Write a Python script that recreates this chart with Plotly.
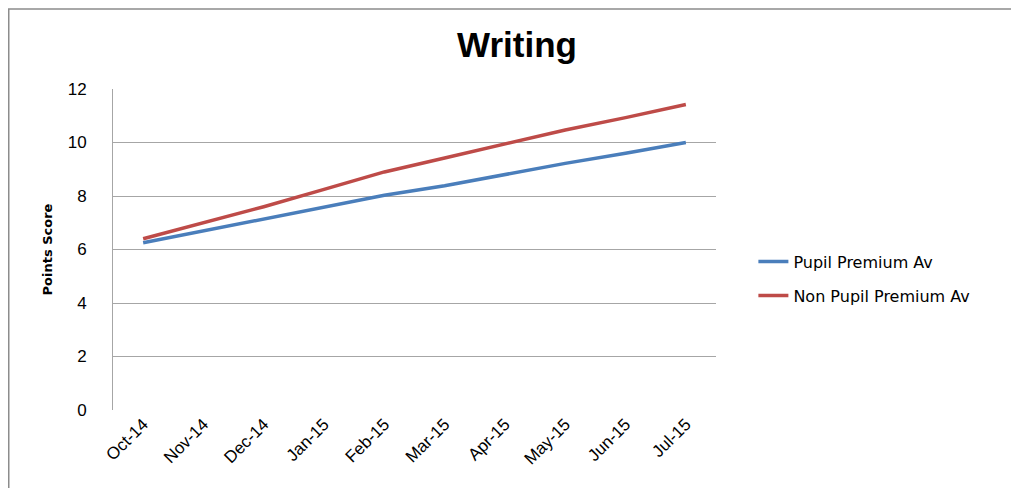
import plotly.graph_objects as go

months = ["Oct-14", "Nov-14", "Dec-14", "Jan-15", "Feb-15", "Mar-15", "Apr-15", "May-15", "Jun-15", "Jul-15"]
pupil_premium = [6.25, 6.7, 7.15, 7.6, 8.03, 8.38, 8.8, 9.22, 9.6, 10.0]
non_pupil_premium = [6.4, 7.0, 7.6, 8.25, 8.9, 9.42, 9.95, 10.47, 10.93, 11.42]
y_ticks = [0, 2, 4, 6, 8, 10, 12]

FONT = "Liberation Sans Narrow, Liberation Sans, Arial, sans-serif"

fig = go.Figure()
fig.add_trace(go.Scatter(x=months, y=pupil_premium, mode="lines", name="Pupil Premium Av",
                         legendgroup="a", line=dict(color="#4A7EBB", width=3.5)))
fig.add_trace(go.Scatter(x=months, y=non_pupil_premium, mode="lines", name="Non Pupil Premium Av",
                         legendgroup="b", line=dict(color="#BE4B48", width=3.5)))

fig.update_layout(
    width=1019, height=488,
    margin=dict(l=105, r=311, t=81, b=86),
    paper_bgcolor="white", plot_bgcolor="white",
    title=dict(text="<b>Writing</b>", x=509/1019, xanchor="center", y=1-37/488, yanchor="middle",
               font=dict(family=FONT, size=35, color="black")),
    font=dict(family=FONT, color="black"),
    showlegend=True,
    legend=dict(x=1.062, xanchor="left", y=0.515, yanchor="top",
                font=dict(family="DejaVu Sans, sans-serif", size=16, color="black"),
                bgcolor="rgba(0,0,0,0)", tracegroupgap=10),
    shapes=[dict(type="rect", xref="paper", yref="paper",
                 x0=(0.75-105)/603, x1=1.6, y0=-0.5, y1=(402-1)/321,
                 line=dict(color="#8c8c8c", width=1.5), layer="below")],
)
fig.update_xaxes(type="category", range=[-0.5, 9.5], showgrid=False, showline=False,
                 ticks="", tickangle=-45, tickfont=dict(family=FONT, size=17, color="black"),
                 zeroline=False)
fig.update_yaxes(range=[0, 12], tickvals=y_ticks, showgrid=True, gridcolor="#a6a6a6", gridwidth=1,
                 showline=True, linecolor="#a6a6a6", linewidth=1, ticks="", zeroline=False,
                 tickfont=dict(family=FONT, size=17, color="black"), ticklabelstandoff=22,
                 title=dict(text="<b>Points Score</b>", font=dict(family="DejaVu Sans, sans-serif", size=13, color="black"),
                            standoff=12))
fig.write_html("out.html")
